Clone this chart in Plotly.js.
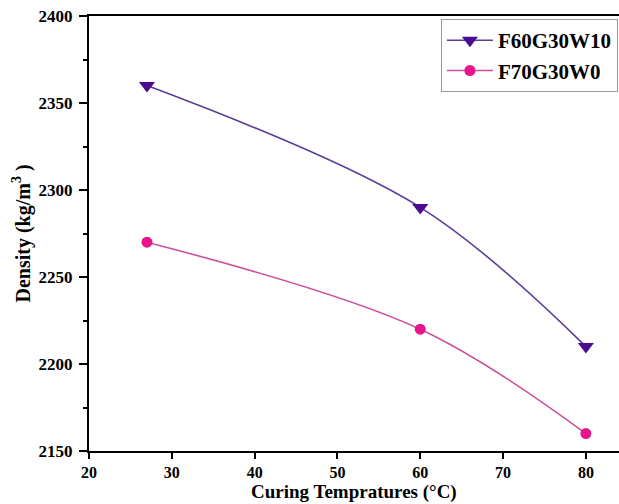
<!DOCTYPE html>
<html>
<head>
<meta charset="utf-8">
<script src="https://cdn.plot.ly/plotly-3.0.1.min.js"></script>
<style>html,body{margin:0;padding:0;background:#fff;}#chart{width:619px;height:504px;}</style>
</head>
<body>
<div id="chart"></div>
<script>
const temps = [27, 60, 80];
const densityF60 = [2360, 2290, 2210];
const densityF70 = [2270, 2220, 2160];
const seriesNames = ['F60G30W10', 'F70G30W0'];
const xTicks = [20, 30, 40, 50, 60, 70, 80];
const yTicks = [2150, 2200, 2250, 2300, 2350, 2400];
const xTitle = 'Curing Tempratures (°C)';
const yTitle = 'Density (kg/m<sup>3</sup> )';

const serif = 'Liberation Serif, Times New Roman, serif';

const traces = [
  {
    x: temps, y: densityF60, name: '<b>' + seriesNames[0] + '</b>', type: 'scatter', mode: 'lines+markers',
    line: {shape: 'spline', color: '#5b3a98', width: 1.6},
    marker: {symbol: 'triangle-down', size: 14, color: '#4a0c90'}
  },
  {
    x: temps, y: densityF70, name: '<b>' + seriesNames[1] + '</b>', type: 'scatter', mode: 'lines+markers',
    line: {shape: 'spline', color: '#cc4f9c', width: 1.6},
    marker: {symbol: 'circle', size: 11, color: '#e8158a'}
  }
];

const layout = {
  width: 619, height: 504,
  margin: {l: 89, r: 0, t: 16, b: 53},
  paper_bgcolor: '#ffffff', plot_bgcolor: '#ffffff',
  showlegend: true,
  legend: {
    x: 0.664, y: 0.993, xanchor: 'left', yanchor: 'top',
    bgcolor: '#ffffff', bordercolor: '#9a9a9a', borderwidth: 1,
    font: {family: serif, size: 21, color: '#000'},
    itemwidth: 46,
    tracegroupgap: 0
  },
  xaxis: {
    range: [20, 84], tickvals: xTicks, ticktext: xTicks.map(v => '<b>' + v + '</b>'),
    showgrid: false, zeroline: false,
    showline: true, linecolor: '#000', linewidth: 2, mirror: true,
    ticks: 'outside', ticklen: 6, tickwidth: 2, tickcolor: '#000',
    tickfont: {family: serif, size: 16, color: '#000'}
  },
  yaxis: {
    range: [2150, 2400], tickvals: yTicks, ticktext: yTicks.map(v => '<b>' + v + '</b>'),
    showgrid: false, zeroline: false,
    showline: true, linecolor: '#000', linewidth: 2,
    ticks: 'outside', ticklen: 8, tickwidth: 2, tickcolor: '#000',
    minor: {dtick: 25, ticks: 'outside', ticklen: 4, tickwidth: 2, tickcolor: '#000', showgrid: false},
    ticklabelstandoff: 3,
    tickfont: {family: serif, size: 17, color: '#000'},
    title: {text: '<b>' + yTitle + '</b>', font: {family: serif, size: 20, color: '#000'}, standoff: 3}
  },
  annotations: [{
    text: '<b>' + xTitle + '</b>', xref: 'paper', yref: 'paper',
    x: 0.5, y: -0.1225, xanchor: 'center', yanchor: 'bottom', showarrow: false,
    borderpad: 0,
    font: {family: serif, size: 19, color: '#000'}
  }]
};

Plotly.newPlot('chart', traces, layout, {displayModeBar: false, staticPlot: true});
</script>
</body>
</html>
